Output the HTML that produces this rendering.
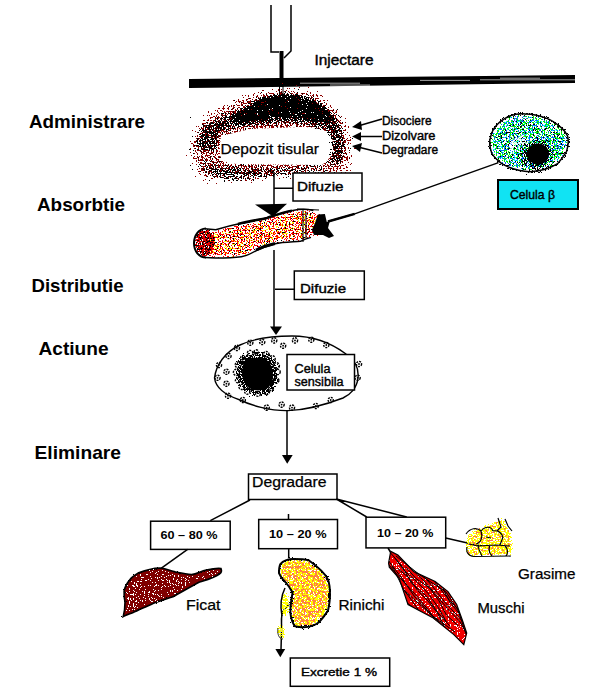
<!DOCTYPE html>
<html><head><meta charset="utf-8">
<style>
html,body{margin:0;padding:0;background:#fff;width:603px;height:698px;overflow:hidden}
svg{display:block}
text{font-family:"Liberation Sans",sans-serif;fill:#000}
.lab{font-size:18.5px;font-weight:bold}
.box{fill:#fff;stroke:#000;stroke-width:1.5}
.ln{stroke:#000;stroke-width:1.5;fill:none}
.sb{stroke:#000;stroke-width:0.4}
.sl{stroke:#000;stroke-width:0.25}
</style></head><body>
<svg width="603" height="698" viewBox="0 0 603 698">
<defs>
<filter id="dBlk" x="-30%" y="-30%" width="160%" height="160%" color-interpolation-filters="sRGB">
<feGaussianBlur in="SourceAlpha" stdDeviation="2" result="b"/>
<feTurbulence type="fractalNoise" baseFrequency="0.75" numOctaves="2" seed="3" result="n0"/>
<feColorMatrix in="n0" type="matrix" values="0 0 0 0 0  0 0 0 0 0  0 0 0 0 0  1 0 0 0 0" result="n"/>
<feComposite in="b" in2="n" operator="arithmetic" k2="2.255" k3="4" k4="-3.238" result="d"/>
<feComponentTransfer in="d" result="t"><feFuncA type="discrete" tableValues="0 1"/></feComponentTransfer>
<feFlood flood-color="#000"/>
<feComposite in2="t" operator="in"/>
</filter>
<filter id="dRed" x="-30%" y="-30%" width="160%" height="160%" color-interpolation-filters="sRGB">
<feGaussianBlur in="SourceAlpha" stdDeviation="6" result="b"/>
<feTurbulence type="fractalNoise" baseFrequency="0.6" numOctaves="2" seed="7" result="n0"/>
<feColorMatrix in="n0" type="matrix" values="0 0 0 0 0  0 0 0 0 0  0 0 0 0 0  1 0 0 0 0" result="n"/>
<feComposite in="b" in2="n" operator="arithmetic" k2="1.528" k3="4" k4="-3.083" result="d"/>
<feComponentTransfer in="d" result="t"><feFuncA type="discrete" tableValues="0 1"/></feComponentTransfer>
<feFlood flood-color="#8b0000"/>
<feComposite in2="t" operator="in"/>
</filter>
<filter id="dBlk2" x="-30%" y="-30%" width="160%" height="160%" color-interpolation-filters="sRGB">
<feGaussianBlur in="SourceAlpha" stdDeviation="3.5" result="b"/>
<feTurbulence type="fractalNoise" baseFrequency="0.75" numOctaves="2" seed="11" result="n0"/>
<feColorMatrix in="n0" type="matrix" values="0 0 0 0 0  0 0 0 0 0  0 0 0 0 0  1 0 0 0 0" result="n"/>
<feComposite in="b" in2="n" operator="arithmetic" k2="1.712" k3="4" k4="-3.157" result="d"/>
<feComponentTransfer in="d" result="t"><feFuncA type="discrete" tableValues="0 1"/></feComponentTransfer>
<feFlood flood-color="#000"/>
<feComposite in2="t" operator="in"/>
</filter>
<filter id="dGrn" x="-30%" y="-30%" width="160%" height="160%" color-interpolation-filters="sRGB">
<feGaussianBlur in="SourceAlpha" stdDeviation="2.5" result="b"/>
<feTurbulence type="fractalNoise" baseFrequency="0.75" numOctaves="2" seed="13" result="n0"/>
<feColorMatrix in="n0" type="matrix" values="0 0 0 0 0  0 0 0 0 0  0 0 0 0 0  1 0 0 0 0" result="n"/>
<feComposite in="b" in2="n" operator="arithmetic" k2="1.873" k3="4" k4="-3.462" result="d"/>
<feComponentTransfer in="d" result="t"><feFuncA type="discrete" tableValues="0 1"/></feComponentTransfer>
<feFlood flood-color="#00f000"/>
<feComposite in2="t" operator="in"/>
</filter>
<filter id="dBlu" x="-30%" y="-30%" width="160%" height="160%" color-interpolation-filters="sRGB">
<feGaussianBlur in="SourceAlpha" stdDeviation="2.5" result="b"/>
<feTurbulence type="fractalNoise" baseFrequency="0.75" numOctaves="2" seed="17" result="n0"/>
<feColorMatrix in="n0" type="matrix" values="0 0 0 0 0  0 0 0 0 0  0 0 0 0 0  1 0 0 0 0" result="n"/>
<feComposite in="b" in2="n" operator="arithmetic" k2="1.515" k3="4" k4="-3.354" result="d"/>
<feComponentTransfer in="d" result="t"><feFuncA type="discrete" tableValues="0 1"/></feComponentTransfer>
<feFlood flood-color="#0070ff"/>
<feComposite in2="t" operator="in"/>
</filter>
<filter id="dCyn" x="-30%" y="-30%" width="160%" height="160%" color-interpolation-filters="sRGB">
<feGaussianBlur in="SourceAlpha" stdDeviation="2.5" result="b"/>
<feTurbulence type="fractalNoise" baseFrequency="0.75" numOctaves="2" seed="83" result="n0"/>
<feColorMatrix in="n0" type="matrix" values="0 0 0 0 0  0 0 0 0 0  0 0 0 0 0  1 0 0 0 0" result="n"/>
<feComposite in="b" in2="n" operator="arithmetic" k2="1.023" k3="4" k4="-3.207" result="d"/>
<feComponentTransfer in="d" result="t"><feFuncA type="discrete" tableValues="0 1"/></feComponentTransfer>
<feFlood flood-color="#00ffff"/>
<feComposite in2="t" operator="in"/>
</filter>
<filter id="dNuc" x="-30%" y="-30%" width="160%" height="160%" color-interpolation-filters="sRGB">
<feGaussianBlur in="SourceAlpha" stdDeviation="4" result="b"/>
<feTurbulence type="fractalNoise" baseFrequency="0.75" numOctaves="2" seed="19" result="n0"/>
<feColorMatrix in="n0" type="matrix" values="0 0 0 0 0  0 0 0 0 0  0 0 0 0 0  1 0 0 0 0" result="n"/>
<feComposite in="b" in2="n" operator="arithmetic" k2="1.819" k3="4" k4="-3.264" result="d"/>
<feComponentTransfer in="d" result="t"><feFuncA type="discrete" tableValues="0 1"/></feComponentTransfer>
<feFlood flood-color="#000"/>
<feComposite in2="t" operator="in"/>
</filter>
<filter id="dRed2" x="-30%" y="-30%" width="160%" height="160%" color-interpolation-filters="sRGB">
<feGaussianBlur in="SourceAlpha" stdDeviation="2" result="b"/>
<feTurbulence type="fractalNoise" baseFrequency="0.75" numOctaves="2" seed="23" result="n0"/>
<feColorMatrix in="n0" type="matrix" values="0 0 0 0 0  0 0 0 0 0  0 0 0 0 0  1 0 0 0 0" result="n"/>
<feComposite in="b" in2="n" operator="arithmetic" k2="1.921" k3="4" k4="-3.476" result="d"/>
<feComponentTransfer in="d" result="t"><feFuncA type="discrete" tableValues="0 1"/></feComponentTransfer>
<feFlood flood-color="#ff0000"/>
<feComposite in2="t" operator="in"/>
</filter>
<filter id="dYel" x="-30%" y="-30%" width="160%" height="160%" color-interpolation-filters="sRGB">
<feGaussianBlur in="SourceAlpha" stdDeviation="3" result="b"/>
<feTurbulence type="fractalNoise" baseFrequency="0.75" numOctaves="2" seed="29" result="n0"/>
<feColorMatrix in="n0" type="matrix" values="0 0 0 0 0  0 0 0 0 0  0 0 0 0 0  1 0 0 0 0" result="n"/>
<feComposite in="b" in2="n" operator="arithmetic" k2="1.573" k3="4" k4="-3.529" result="d"/>
<feComponentTransfer in="d" result="t"><feFuncA type="discrete" tableValues="0 1"/></feComponentTransfer>
<feFlood flood-color="#ffff00"/>
<feComposite in2="t" operator="in"/>
</filter>
<filter id="dRed3" x="-30%" y="-30%" width="160%" height="160%" color-interpolation-filters="sRGB">
<feGaussianBlur in="SourceAlpha" stdDeviation="1.5" result="b"/>
<feTurbulence type="fractalNoise" baseFrequency="0.75" numOctaves="2" seed="31" result="n0"/>
<feColorMatrix in="n0" type="matrix" values="0 0 0 0 0  0 0 0 0 0  0 0 0 0 0  1 0 0 0 0" result="n"/>
<feComposite in="b" in2="n" operator="arithmetic" k2="2.529" k3="4" k4="-3.659" result="d"/>
<feComponentTransfer in="d" result="t"><feFuncA type="discrete" tableValues="0 1"/></feComponentTransfer>
<feFlood flood-color="#e00000"/>
<feComposite in2="t" operator="in"/>
</filter>
<filter id="dNuc2" x="-30%" y="-30%" width="160%" height="160%" color-interpolation-filters="sRGB">
<feGaussianBlur in="SourceAlpha" stdDeviation="2.5" result="b"/>
<feTurbulence type="fractalNoise" baseFrequency="0.75" numOctaves="2" seed="37" result="n0"/>
<feColorMatrix in="n0" type="matrix" values="0 0 0 0 0  0 0 0 0 0  0 0 0 0 0  1 0 0 0 0" result="n"/>
<feComposite in="b" in2="n" operator="arithmetic" k2="2.121" k3="4" k4="-3.324" result="d"/>
<feComponentTransfer in="d" result="t"><feFuncA type="discrete" tableValues="0 1"/></feComponentTransfer>
<feFlood flood-color="#000"/>
<feComposite in2="t" operator="in"/>
</filter>
<filter id="dWht" x="-30%" y="-30%" width="160%" height="160%" color-interpolation-filters="sRGB">
<feGaussianBlur in="SourceAlpha" stdDeviation="1.5" result="b"/>
<feTurbulence type="fractalNoise" baseFrequency="0.75" numOctaves="2" seed="41" result="n0"/>
<feColorMatrix in="n0" type="matrix" values="0 0 0 0 0  0 0 0 0 0  0 0 0 0 0  1 0 0 0 0" result="n"/>
<feComposite in="b" in2="n" operator="arithmetic" k2="1.394" k3="4" k4="-3.457" result="d"/>
<feComponentTransfer in="d" result="t"><feFuncA type="discrete" tableValues="0 1"/></feComponentTransfer>
<feFlood flood-color="#fff"/>
<feComposite in2="t" operator="in"/>
</filter>
<filter id="dYel2" x="-30%" y="-30%" width="160%" height="160%" color-interpolation-filters="sRGB">
<feGaussianBlur in="SourceAlpha" stdDeviation="1.5" result="b"/>
<feTurbulence type="fractalNoise" baseFrequency="0.75" numOctaves="2" seed="43" result="n0"/>
<feColorMatrix in="n0" type="matrix" values="0 0 0 0 0  0 0 0 0 0  0 0 0 0 0  1 0 0 0 0" result="n"/>
<feComposite in="b" in2="n" operator="arithmetic" k2="2.424" k3="4" k4="-3.627" result="d"/>
<feComponentTransfer in="d" result="t"><feFuncA type="discrete" tableValues="0 1"/></feComponentTransfer>
<feFlood flood-color="#ffff00"/>
<feComposite in2="t" operator="in"/>
</filter>
<filter id="dOrg" x="-30%" y="-30%" width="160%" height="160%" color-interpolation-filters="sRGB">
<feGaussianBlur in="SourceAlpha" stdDeviation="2" result="b"/>
<feTurbulence type="fractalNoise" baseFrequency="0.45" numOctaves="2" seed="47" result="n0"/>
<feColorMatrix in="n0" type="matrix" values="0 0 0 0 0  0 0 0 0 0  0 0 0 0 0  1 0 0 0 0" result="n"/>
<feComposite in="b" in2="n" operator="arithmetic" k2="1.921" k3="4" k4="-3.476" result="d"/>
<feComponentTransfer in="d" result="t"><feFuncA type="discrete" tableValues="0 1"/></feComponentTransfer>
<feFlood flood-color="#ff8040"/>
<feComposite in2="t" operator="in"/>
</filter>
<filter id="dWht2" x="-30%" y="-30%" width="160%" height="160%" color-interpolation-filters="sRGB">
<feGaussianBlur in="SourceAlpha" stdDeviation="1.5" result="b"/>
<feTurbulence type="fractalNoise" baseFrequency="0.75" numOctaves="2" seed="53" result="n0"/>
<feColorMatrix in="n0" type="matrix" values="0 0 0 0 0  0 0 0 0 0  0 0 0 0 0  1 0 0 0 0" result="n"/>
<feComposite in="b" in2="n" operator="arithmetic" k2="1.472" k3="4" k4="-3.489" result="d"/>
<feComponentTransfer in="d" result="t"><feFuncA type="discrete" tableValues="0 1"/></feComponentTransfer>
<feFlood flood-color="#fff"/>
<feComposite in2="t" operator="in"/>
</filter>
<filter id="dOrg2" x="-30%" y="-30%" width="160%" height="160%" color-interpolation-filters="sRGB">
<feGaussianBlur in="SourceAlpha" stdDeviation="2" result="b"/>
<feTurbulence type="fractalNoise" baseFrequency="0.5" numOctaves="2" seed="59" result="n0"/>
<feColorMatrix in="n0" type="matrix" values="0 0 0 0 0  0 0 0 0 0  0 0 0 0 0  1 0 0 0 0" result="n"/>
<feComposite in="b" in2="n" operator="arithmetic" k2="1.662" k3="4" k4="-3.565" result="d"/>
<feComponentTransfer in="d" result="t"><feFuncA type="discrete" tableValues="0 1"/></feComponentTransfer>
<feFlood flood-color="#ff8040"/>
<feComposite in2="t" operator="in"/>
</filter>
<filter id="dBlkE" x="-30%" y="-30%" width="160%" height="160%" color-interpolation-filters="sRGB">
<feGaussianBlur in="SourceAlpha" stdDeviation="1.2" result="b"/>
<feTurbulence type="fractalNoise" baseFrequency="0.75" numOctaves="2" seed="61" result="n0"/>
<feColorMatrix in="n0" type="matrix" values="0 0 0 0 0  0 0 0 0 0  0 0 0 0 0  1 0 0 0 0" result="n"/>
<feComposite in="b" in2="n" operator="arithmetic" k2="1.841" k3="4" k4="-3.452" result="d"/>
<feComponentTransfer in="d" result="t"><feFuncA type="discrete" tableValues="0 1"/></feComponentTransfer>
<feFlood flood-color="#000"/>
<feComposite in2="t" operator="in"/>
</filter>
<filter id="dYelF" x="-30%" y="-30%" width="160%" height="160%" color-interpolation-filters="sRGB">
<feGaussianBlur in="SourceAlpha" stdDeviation="1.5" result="b"/>
<feTurbulence type="fractalNoise" baseFrequency="0.75" numOctaves="2" seed="67" result="n0"/>
<feColorMatrix in="n0" type="matrix" values="0 0 0 0 0  0 0 0 0 0  0 0 0 0 0  1 0 0 0 0" result="n"/>
<feComposite in="b" in2="n" operator="arithmetic" k2="2.093" k3="4" k4="-3.423" result="d"/>
<feComponentTransfer in="d" result="t"><feFuncA type="discrete" tableValues="0 1"/></feComponentTransfer>
<feFlood flood-color="#ffff00"/>
<feComposite in2="t" operator="in"/>
</filter>
<filter id="dBlkM" x="-30%" y="-30%" width="160%" height="160%" color-interpolation-filters="sRGB">
<feGaussianBlur in="SourceAlpha" stdDeviation="1.5" result="b"/>
<feTurbulence type="fractalNoise" baseFrequency="0.75" numOctaves="2" seed="71" result="n0"/>
<feColorMatrix in="n0" type="matrix" values="0 0 0 0 0  0 0 0 0 0  0 0 0 0 0  1 0 0 0 0" result="n"/>
<feComposite in="b" in2="n" operator="arithmetic" k2="0.9" k3="4" k4="-3.17" result="d"/>
<feComponentTransfer in="d" result="t"><feFuncA type="discrete" tableValues="0 1"/></feComponentTransfer>
<feFlood flood-color="#000"/>
<feComposite in2="t" operator="in"/>
</filter>
<filter id="dBlkT" x="-30%" y="-30%" width="160%" height="160%" color-interpolation-filters="sRGB">
<feGaussianBlur in="SourceAlpha" stdDeviation="2" result="b"/>
<feTurbulence type="fractalNoise" baseFrequency="0.75" numOctaves="2" seed="73" result="n0"/>
<feColorMatrix in="n0" type="matrix" values="0 0 0 0 0  0 0 0 0 0  0 0 0 0 0  1 0 0 0 0" result="n"/>
<feComposite in="b" in2="n" operator="arithmetic" k2="0.966" k3="4" k4="-3.19" result="d"/>
<feComponentTransfer in="d" result="t"><feFuncA type="discrete" tableValues="0 1"/></feComponentTransfer>
<feFlood flood-color="#000"/>
<feComposite in2="t" operator="in"/>
</filter>
<filter id="dBlkC" x="-30%" y="-30%" width="160%" height="160%" color-interpolation-filters="sRGB">
<feGaussianBlur in="SourceAlpha" stdDeviation="1.5" result="b"/>
<feTurbulence type="fractalNoise" baseFrequency="0.75" numOctaves="2" seed="79" result="n0"/>
<feColorMatrix in="n0" type="matrix" values="0 0 0 0 0  0 0 0 0 0  0 0 0 0 0  1 0 0 0 0" result="n"/>
<feComposite in="b" in2="n" operator="arithmetic" k2="1.758" k3="4" k4="-3.427" result="d"/>
<feComponentTransfer in="d" result="t"><feFuncA type="discrete" tableValues="0 1"/></feComponentTransfer>
<feFlood flood-color="#000"/>
<feComposite in2="t" operator="in"/>
</filter>
<filter id="dBlkA" x="-30%" y="-30%" width="160%" height="160%" color-interpolation-filters="sRGB">
<feGaussianBlur in="SourceAlpha" stdDeviation="2" result="b"/>
<feTurbulence type="fractalNoise" baseFrequency="0.75" numOctaves="2" seed="97" result="n0"/>
<feColorMatrix in="n0" type="matrix" values="0 0 0 0 0  0 0 0 0 0  0 0 0 0 0  1 0 0 0 0" result="n"/>
<feComposite in="b" in2="n" operator="arithmetic" k2="1.889" k3="4" k4="-3.278" result="d"/>
<feComponentTransfer in="d" result="t"><feFuncA type="discrete" tableValues="0 1"/></feComponentTransfer>
<feFlood flood-color="#000"/>
<feComposite in2="t" operator="in"/>
</filter>
<filter id="dBlkH" x="-30%" y="-30%" width="160%" height="160%" color-interpolation-filters="sRGB">
<feGaussianBlur in="SourceAlpha" stdDeviation="5" result="b"/>
<feTurbulence type="fractalNoise" baseFrequency="0.75" numOctaves="2" seed="101" result="n0"/>
<feColorMatrix in="n0" type="matrix" values="0 0 0 0 0  0 0 0 0 0  0 0 0 0 0  1 0 0 0 0" result="n"/>
<feComposite in="b" in2="n" operator="arithmetic" k2="0.845" k3="4" k4="-3.069" result="d"/>
<feComponentTransfer in="d" result="t"><feFuncA type="discrete" tableValues="0 1"/></feComponentTransfer>
<feFlood flood-color="#000"/>
<feComposite in2="t" operator="in"/>
</filter>
<filter id="dWhtC" x="-30%" y="-30%" width="160%" height="160%" color-interpolation-filters="sRGB">
<feGaussianBlur in="SourceAlpha" stdDeviation="4" result="b"/>
<feTurbulence type="fractalNoise" baseFrequency="0.75" numOctaves="2" seed="103" result="n0"/>
<feColorMatrix in="n0" type="matrix" values="0 0 0 0 0  0 0 0 0 0  0 0 0 0 0  1 0 0 0 0" result="n"/>
<feComposite in="b" in2="n" operator="arithmetic" k2="1.919" k3="4" k4="-3.188" result="d"/>
<feComponentTransfer in="d" result="t"><feFuncA type="discrete" tableValues="0 1"/></feComponentTransfer>
<feFlood flood-color="#fff"/>
<feComposite in2="t" operator="in"/>
</filter>
<filter id="dBlkS" x="-30%" y="-30%" width="160%" height="160%" color-interpolation-filters="sRGB">
<feGaussianBlur in="SourceAlpha" stdDeviation="3" result="b"/>
<feTurbulence type="fractalNoise" baseFrequency="0.75" numOctaves="2" seed="107" result="n0"/>
<feColorMatrix in="n0" type="matrix" values="0 0 0 0 0  0 0 0 0 0  0 0 0 0 0  1 0 0 0 0" result="n"/>
<feComposite in="b" in2="n" operator="arithmetic" k2="1.194" k3="4" k4="-3.258" result="d"/>
<feComponentTransfer in="d" result="t"><feFuncA type="discrete" tableValues="0 1"/></feComponentTransfer>
<feFlood flood-color="#000"/>
<feComposite in2="t" operator="in"/>
</filter>
<filter id="dBlkK" x="-30%" y="-30%" width="160%" height="160%" color-interpolation-filters="sRGB">
<feGaussianBlur in="SourceAlpha" stdDeviation="1" result="b"/>
<feTurbulence type="fractalNoise" baseFrequency="0.75" numOctaves="2" seed="89" result="n0"/>
<feColorMatrix in="n0" type="matrix" values="0 0 0 0 0  0 0 0 0 0  0 0 0 0 0  1 0 0 0 0" result="n"/>
<feComposite in="b" in2="n" operator="arithmetic" k2="1.758" k3="4" k4="-3.427" result="d"/>
<feComponentTransfer in="d" result="t"><feFuncA type="discrete" tableValues="0 1"/></feComponentTransfer>
<feFlood flood-color="#000"/>
<feComposite in2="t" operator="in"/>
</filter>
</defs>
<!-- left labels -->
<text class="lab" x="29" y="128" textLength="116" lengthAdjust="spacingAndGlyphs">Administrare</text>
<text class="lab" x="37" y="211" textLength="88" lengthAdjust="spacingAndGlyphs">Absorbtie</text>
<text class="lab" x="31.5" y="291.6" textLength="92" lengthAdjust="spacingAndGlyphs">Distributie</text>
<text class="lab" x="38.5" y="354.7" textLength="70" lengthAdjust="spacingAndGlyphs">Actiune</text>
<text class="lab" x="34.5" y="458.5" textLength="86.5" lengthAdjust="spacingAndGlyphs">Eliminare</text>

<!-- syringe -->
<path class="ln" d="M271,5 V52 H279 M291,5 V51 L284,58" stroke-width="2"/>
<rect x="279.5" y="51" width="4" height="36" fill="#000"/>
<!-- bar -->
<path d="M189,79 L575,75 L575,83 L189,88 Z" fill="#000"/>
<path d="M300,83.2 H360 M420,80.4 H470 M480,79.8 H575 M330,85 H370 M500,78.2 H540" stroke="#fff" stroke-width="0.8" opacity="0.8"/>
<text class="sb" x="314.5" y="64.7" font-size="14" textLength="59" lengthAdjust="spacingAndGlyphs">Injectare</text>

<!-- deposit -->
<path filter="url(#dRed)" d="M188,142 L198,120 L222,104 L258,90 L285,86 L312,89 L342,110 L355,148 L350,175 L320,176 L284,178 L245,183 L200,180 L190,160 Z" fill="#000"/>
<path filter="url(#dBlkH)" d="M188,142 L198,120 L222,104 L258,90 L285,86 L312,89 L342,110 L355,148 L350,175 L320,176 L284,178 L245,183 L200,180 L190,160 Z" fill="#000"/>
<path d="M221,136 C220,145 219,152 221,158 C225,163 232,164 240,164 L322,165 C328,160 333,155 333,150 C333,142 332,137 330,133 C320,128 310,127 300,127 L250,129 Z" fill="#fff"/>
<path filter="url(#dBlkA)" d="M194,144 L203,122 L224,116 L245,107 L256.6,98 L274.5,93.4 L298.4,93.4 L319,101 L334,113 L343,128 L346,146 L343,163.6 L325,166.6 L331,151.6 L328,133.7 L304,124.8 L274.5,124.8 L244.7,127.8 L220.8,132 L218,151.6 L203,154.6 Z" fill="#000"/>
<path filter="url(#dBlk)" d="M232,112 L245,106 L256.6,98 L274.5,93.4 L298.4,93.4 L319,101 L332,112 L336,122 L318,122 L300,119 L275,120 L250,123 L232,125 Z" fill="#000"/>
<path filter="url(#dBlk2)" d="M197,161 L225,165 L280,167 L330,165 L345,163 L338,171 L320,173 L284,176 L245,182 L210,179 Z" fill="#000"/>
<path d="M279.5,86 V98 M283,86 V97" stroke="#000" stroke-width="1"/>
<text class="sl" x="220.5" y="154" font-size="15" textLength="98.5" lengthAdjust="spacingAndGlyphs">Depozit tisular</text>

<!-- arrows -->
<path class="ln" d="M382,119 L358,126 M382,136.5 L358,136.5 M382,153 L358,147" stroke-width="2"/>
<path d="M352,127 L361,121 L362,130 Z M352,136.5 L361,132 L361,141 Z M352,146 L362,143 L360,152 Z" fill="#000"/>
<text class="sb" x="382" y="125" font-size="12" textLength="49.5" lengthAdjust="spacingAndGlyphs">Disociere</text>
<text class="sb" x="382" y="139.7" font-size="12" textLength="53.5" lengthAdjust="spacingAndGlyphs">Dizolvare</text>
<text class="sb" x="382" y="153.9" font-size="12" textLength="56" lengthAdjust="spacingAndGlyphs">Degradare</text>

<!-- cell beta -->
<path d="M489.9,139.8 C491,134 493,129 495.9,125.9 C500,121 505,118 509.8,115.9 C515,114 520,113.5 525.7,113.9 C533,114 539,115.5 545.6,117.9 C552,120 557,124 561.5,127.9 C564,130 566,133 567.5,135.8 C569,141 568,147 566.5,151.7 C564,156 561,160 557.6,163.7 C552,167 546,169.5 539.7,170.6 C533,172 526,172 519.8,170.6 C513,169 507,167 501.8,163.7 C497,160 494,157 491.9,153.7 C490,149 489.5,144 489.9,139.8 Z" fill="#000" filter="url(#dGrn)"/>
<path d="M489.9,139.8 C491,134 493,129 495.9,125.9 C500,121 505,118 509.8,115.9 C515,114 520,113.5 525.7,113.9 C533,114 539,115.5 545.6,117.9 C552,120 557,124 561.5,127.9 C564,130 566,133 567.5,135.8 C569,141 568,147 566.5,151.7 C564,156 561,160 557.6,163.7 C552,167 546,169.5 539.7,170.6 C533,172 526,172 519.8,170.6 C513,169 507,167 501.8,163.7 C497,160 494,157 491.9,153.7 C490,149 489.5,144 489.9,139.8 Z" fill="#000" filter="url(#dBlu)"/>
<path d="M489.9,139.8 C491,134 493,129 495.9,125.9 C500,121 505,118 509.8,115.9 C515,114 520,113.5 525.7,113.9 C533,114 539,115.5 545.6,117.9 C552,120 557,124 561.5,127.9 C564,130 566,133 567.5,135.8 C569,141 568,147 566.5,151.7 C564,156 561,160 557.6,163.7 C552,167 546,169.5 539.7,170.6 C533,172 526,172 519.8,170.6 C513,169 507,167 501.8,163.7 C497,160 494,157 491.9,153.7 C490,149 489.5,144 489.9,139.8 Z" fill="#000" filter="url(#dCyn)"/>
<path d="M489.9,139.8 C491,134 493,129 495.9,125.9 C500,121 505,118 509.8,115.9 C515,114 520,113.5 525.7,113.9 C533,114 539,115.5 545.6,117.9 C552,120 557,124 561.5,127.9 C564,130 566,133 567.5,135.8 C569,141 568,147 566.5,151.7 C564,156 561,160 557.6,163.7 C552,167 546,169.5 539.7,170.6 C533,172 526,172 519.8,170.6 C513,169 507,167 501.8,163.7 C497,160 494,157 491.9,153.7 C490,149 489.5,144 489.9,139.8 Z" fill="none" stroke="#000" stroke-width="5" filter="url(#dBlkE)"/>
<ellipse cx="518" cy="143" rx="14" ry="8" transform="rotate(-20 518 143)" fill="#000" filter="url(#dWhtC)"/>
<path d="M492,140 C495,126 510,116 526,115 C545,115 560,124 566,140 L566,152 C560,164 548,170 536,171 C520,172 505,166 494,154 Z" fill="#000" filter="url(#dBlkS)"/>
<path d="M489.9,139.8 C491,134 493,129 495.9,125.9 C500,121 505,118 509.8,115.9 C515,114 520,113.5 525.7,113.9 C533,114 539,115.5 545.6,117.9 C552,120 557,124 561.5,127.9 C564,130 566,133 567.5,135.8 C569,141 568,147 566.5,151.7 C564,156 561,160 557.6,163.7 C552,167 546,169.5 539.7,170.6 C533,172 526,172 519.8,170.6 C513,169 507,167 501.8,163.7 C497,160 494,157 491.9,153.7 C490,149 489.5,144 489.9,139.8 Z" fill="none" stroke="#000" stroke-width="1.5"/>
<circle cx="536" cy="155" r="19" fill="#000" filter="url(#dNuc)"/>
<ellipse cx="538" cy="154" rx="11" ry="10.5" fill="#000"/>
<rect x="498" y="180" width="80" height="29" fill="#11e3f3" stroke="#000" stroke-width="2"/>
<text class="sb" x="510" y="199" font-size="13" textLength="45" lengthAdjust="spacingAndGlyphs">Celula β</text>
<path class="ln" d="M498.5,162.6 L354.7,213.9 L328,221.5"/>
<path d="M354.7,213.9 L328,221.5" stroke="#000" stroke-width="2.5"/>

<!-- difuzie 1 -->
<path class="ln" d="M274,172 V205 M274,188.3 H293 M274,250 V327 M275,289.2 H294"/>
<rect class="box" x="293" y="173" width="69" height="28"/>
<text class="sb" x="297" y="190.5" font-size="13.5" textLength="46.5" lengthAdjust="spacingAndGlyphs">Difuzie</text>
<path d="M255,204.5 L287,203.7 L273,216.5 Z" fill="#000"/>

<!-- intestine -->
<path d="M204,229 L215.7,229.7 C225,227 233,225 241.4,223.3 C250,221 258,220 267,218 C276,215 284,212 292.8,210.4 C300,209 307,209 313.4,210.4 L321,213 L323,236 L311,237.4 C305,239 303,240 300.5,241.3 C292,242 283,242 274.8,243.8 C268,246 262,248 256.8,250.3 C252,253 247,256 241.4,256.7 C232,258 224,258 215.7,258 L204,258 Z" fill="#000" filter="url(#dRed2)"/>
<path d="M204,229 L215.7,229.7 C225,227 233,225 241.4,223.3 C250,221 258,220 267,218 C276,215 284,212 292.8,210.4 C300,209 307,209 313.4,210.4 L321,213 L323,236 L311,237.4 C305,239 303,240 300.5,241.3 C292,242 283,242 274.8,243.8 C268,246 262,248 256.8,250.3 C252,253 247,256 241.4,256.7 C232,258 224,258 215.7,258 L204,258 Z" fill="#000" filter="url(#dYel)"/>
<path d="M204,229 L215.7,229.7 C225,227 233,225 241.4,223.3 C250,221 258,220 267,218 C276,215 284,212 292.8,210.4 C300,209 307,209 313.4,210.4 L321,213 L323,236 L311,237.4 C305,239 303,240 300.5,241.3 C292,242 283,242 274.8,243.8 C268,246 262,248 256.8,250.3 C252,253 247,256 241.4,256.7 C232,258 224,258 215.7,258 L204,258 Z" fill="#000" filter="url(#dBlkT)"/>
<path d="M205,228.8 L215.7,229.7 C225,227 233,225 241.4,223.3 C250,221 258,220 267,218 C276,215 284,212 292.8,210.4 C300,209 307,209 313.4,210.4" fill="none" stroke="#000" stroke-width="1.5"/>
<path d="M238,224 C250,221 258,220 267,218 C276,215 284,212 292,210.8" fill="none" stroke="#000" stroke-width="2.6"/>
<path d="M311,237.4 C305,239 303,240 300.5,241.3 C292,242 283,242 274.8,243.8 C268,246 262,248 256.8,250.3 C252,253 247,256 241.4,256.7 C232,258 224,258 215.7,258 L205,257.6" fill="none" stroke="#000" stroke-width="1.5"/>
<path d="M256,250 C262,247 268,245 275,243.5" fill="none" stroke="#000" stroke-width="3"/>
<ellipse cx="205" cy="243" rx="11" ry="14.6" fill="#000" filter="url(#dRed3)"/>
<ellipse cx="205" cy="243" rx="11" ry="14.6" fill="#000" filter="url(#dBlkC)"/>
<path d="M206,228.6 C198,229 194,236 194,243 C194,251 199,257.6 206,257.6" fill="none" stroke="#000" stroke-width="2"/>
<path d="M303,210 V242 M306,212 V238 M297,209 L319,210" stroke="#000" stroke-width="1.1"/>
<path d="M317.9,214.4 L324.9,213.9 L326.8,221.9 L330,220.5 L328,228 L334,236 L329,238 L323,235 L314,235 L311.9,230 L315,223 Z" fill="#000"/>
<!-- difuzie 2 -->
<rect class="box" x="294.3" y="271" width="70" height="28.5"/>
<text class="sb" x="300" y="292.8" font-size="13.5" textLength="46" lengthAdjust="spacingAndGlyphs">Difuzie</text>
<path d="M270,326.6 L282,326.6 L276,335 Z" fill="#000"/>

<!-- sensibila cell -->
<path d="M214.5,378 C216,365 225,352 240,345 C255,338 275,336 292,336 C310,336 330,342 346,354 C355,360 359,368 358,378 C357,388 350,395 343,398 C330,403 310,410 288,410.6 C270,411 250,405 240,400 C228,396 216,390 214.5,378 Z" fill="none" stroke="#000" stroke-width="1.4"/>
<g fill="none" stroke="#000" stroke-width="1.4" stroke-dasharray="2 1">
<circle cx="228.5" cy="356" r="2.6"/><circle cx="228.5" cy="356" r="0.9" fill="#000" stroke="none"/>
<circle cx="236.9" cy="347.9" r="2.6"/><circle cx="236.9" cy="347.9" r="0.9" fill="#000" stroke="none"/>
<circle cx="250.3" cy="342.7" r="2.6"/><circle cx="250.3" cy="342.7" r="0.9" fill="#000" stroke="none"/>
<circle cx="262.2" cy="342" r="2.6"/><circle cx="262.2" cy="342" r="0.9" fill="#000" stroke="none"/>
<circle cx="274.2" cy="340.4" r="2.6"/><circle cx="274.2" cy="340.4" r="0.9" fill="#000" stroke="none"/>
<circle cx="283.1" cy="345.7" r="2.6"/><circle cx="283.1" cy="345.7" r="0.9" fill="#000" stroke="none"/>
<circle cx="219" cy="365" r="2.6"/><circle cx="219" cy="365" r="0.9" fill="#000" stroke="none"/>
<circle cx="217.5" cy="377.8" r="2.6"/><circle cx="217.5" cy="377.8" r="0.9" fill="#000" stroke="none"/>
<circle cx="226.4" cy="371.8" r="2.6"/><circle cx="226.4" cy="371.8" r="0.9" fill="#000" stroke="none"/>
<circle cx="226.4" cy="383.7" r="2.6"/><circle cx="226.4" cy="383.7" r="0.9" fill="#000" stroke="none"/>
<circle cx="228" cy="395.7" r="2.6"/><circle cx="228" cy="395.7" r="0.9" fill="#000" stroke="none"/>
<circle cx="242.8" cy="400" r="2.6"/><circle cx="242.8" cy="400" r="0.9" fill="#000" stroke="none"/>
<circle cx="266.7" cy="407.6" r="2.6"/><circle cx="266.7" cy="407.6" r="0.9" fill="#000" stroke="none"/>
<circle cx="281.6" cy="404.6" r="2.6"/><circle cx="281.6" cy="404.6" r="0.9" fill="#000" stroke="none"/>
<circle cx="292" cy="407.6" r="2.6"/><circle cx="292" cy="407.6" r="0.9" fill="#000" stroke="none"/>
<circle cx="295" cy="340.4" r="2.6"/><circle cx="295" cy="340.4" r="0.9" fill="#000" stroke="none"/>
<circle cx="311.3" cy="339.7" r="2.6"/><circle cx="311.3" cy="339.7" r="0.9" fill="#000" stroke="none"/>
<circle cx="326.3" cy="345" r="2.6"/><circle cx="326.3" cy="345" r="0.9" fill="#000" stroke="none"/>
<circle cx="359" cy="364" r="2.6"/><circle cx="359" cy="364" r="0.9" fill="#000" stroke="none"/>
<circle cx="357.6" cy="377.8" r="2.6"/><circle cx="357.6" cy="377.8" r="0.9" fill="#000" stroke="none"/>
<circle cx="315.8" cy="406" r="2.6"/><circle cx="315.8" cy="406" r="0.9" fill="#000" stroke="none"/>
<circle cx="330.7" cy="400" r="2.6"/><circle cx="330.7" cy="400" r="0.9" fill="#000" stroke="none"/>
<circle cx="277.5" cy="371.9" r="2.7"/>
<circle cx="276.1" cy="380.5" r="2.8"/>
<circle cx="271.1" cy="388.2" r="2.3"/>
<circle cx="266.6" cy="391.5" r="3.0"/>
<circle cx="258.0" cy="394.0" r="2.4"/>
<circle cx="247.3" cy="391.5" r="2.7"/>
<circle cx="241.6" cy="386.8" r="2.7"/>
<circle cx="237.8" cy="380.5" r="2.4"/>
<circle cx="236.5" cy="372.4" r="3.1"/>
<circle cx="238.1" cy="364.9" r="2.9"/>
<circle cx="243.0" cy="357.7" r="2.3"/>
<circle cx="250.1" cy="353.2" r="2.8"/>
<circle cx="256.2" cy="352.0" r="2.2"/>
<circle cx="266.2" cy="354.2" r="2.7"/>
<circle cx="272.1" cy="358.8" r="3.1"/>
<circle cx="276.3" cy="365.8" r="3.1"/>
</g>
<path d="M236,362 C238,354 246,351 252,352 C258,350 266,350 272,355 C278,360 280,368 279,376 C280,384 276,392 270,395 C262,398 252,397 245,393 C238,388 234,380 235,372 Z" fill="#000" filter="url(#dNuc2)"/>
<path d="M243,365 C245,359 250,357 255,358 C260,357 265,358 268,361 C272,365 273,370 273,376 C273,382 270,387 266,389 C260,391 254,391 249,388 C244,384 242,378 242,372 Z" fill="#000"/>
<rect class="box" x="287" y="354.5" width="67.5" height="35.5"/>
<text class="sb" x="294.5" y="373" font-size="12.5" textLength="36" lengthAdjust="spacingAndGlyphs">Celula</text>
<text class="sb" x="294.5" y="385.6" font-size="12.5" textLength="49" lengthAdjust="spacingAndGlyphs">sensibila</text>
<path class="ln" d="M287,410 V456"/>
<path d="M282,455 L292.7,455 L287.2,463.7 Z" fill="#000"/>

<!-- degradare -->
<rect class="box" x="248.5" y="474" width="88.5" height="25.5"/>
<text class="sl" x="252" y="487" font-size="14" textLength="74.5" lengthAdjust="spacingAndGlyphs">Degradare</text>
<path class="ln" d="M250,500 L210.3,520.7 M288.5,514 V520 M336.4,499 L366.7,517 M336.4,499 L406.7,517 M445.7,538 L474,544.5 L487,547"/>
<rect class="box" x="150.6" y="521.2" width="79.6" height="28.2"/>
<text x="160.5" y="538.7" font-size="11" font-weight="bold" textLength="57" lengthAdjust="spacingAndGlyphs">60 – 80 %</text>
<rect class="box" x="258.7" y="519.5" width="78.8" height="29.2"/>
<text x="269" y="538" font-size="11" font-weight="bold" textLength="57.5" lengthAdjust="spacingAndGlyphs">10 – 20 %</text>
<rect class="box" x="366" y="517.2" width="79.7" height="30.7"/>
<text x="377" y="537" font-size="11" font-weight="bold" textLength="56.5" lengthAdjust="spacingAndGlyphs">10 – 20 %</text>

<!-- liver -->
<path class="ln" d="M187.6,549.3 L160.7,568.7"/>
<path d="M123.2,616.6 C125,610 125,605 125,602 C124,598 124,594 124.1,591 C125,586 127,583 129.6,580 C132,577 135,575 138.7,572.8 C143,571 147,570 151.5,569.1 C155,568 159,568 162.4,568.2 C167,569 171,571 175.2,571.9 C181,573 186,574 191.6,574.6 C197,574 201,571 206.2,570 C211,569 216,568 221,568.5 C222,571 221,573 219.4,574 C214,578 206,580 199.5,582 C190,587 180,593 173,596.7 C166,599 159,601 153,603.4 C145,607 137,611 133.2,612.5 C129,614 126,615 123.2,616.6 Z" fill="#800000" stroke="#000" stroke-width="1.6"/>
<path d="M123.2,616.6 C125,610 125,605 125,602 C124,598 124,594 124.1,591 C125,586 127,583 129.6,580 C132,577 135,575 138.7,572.8 C143,571 147,570 151.5,569.1 C155,568 159,568 162.4,568.2 C167,569 171,571 175.2,571.9 C181,573 186,574 191.6,574.6 C197,574 201,571 206.2,570 C211,569 216,568 221,568.5 C222,571 221,573 219.4,574 C214,578 206,580 199.5,582 C190,587 180,593 173,596.7 C166,599 159,601 153,603.4 C145,607 137,611 133.2,612.5 C129,614 126,615 123.2,616.6 Z" fill="#000" filter="url(#dWht)"/>
<path d="M123.2,616.6 C125,610 125,605 125,602 C124,598 124,594 124.1,591 C125,586 127,583 129.6,580 C132,577 135,575 138.7,572.8 C143,571 147,570 151.5,569.1 C155,568 159,568 162.4,568.2 C167,569 171,571 175.2,571.9 C181,573 186,574 191.6,574.6 C197,574 201,571 206.2,570 C211,569 216,568 221,568.5 C222,571 221,573 219.4,574 C214,578 206,580 199.5,582 C190,587 180,593 173,596.7 C166,599 159,601 153,603.4 C145,607 137,611 133.2,612.5 C129,614 126,615 123.2,616.6 Z" fill="none" stroke="#000" stroke-width="3" filter="url(#dBlkE)"/>
<text class="sl" x="186" y="609.7" font-size="14" textLength="34.5" lengthAdjust="spacingAndGlyphs">Ficat</text>

<!-- kidney -->
<path class="ln" d="M288.7,548.8 V558"/>
<path id="kid" d="M280.3,564.2 C284,560 288,559 293.2,559 C298,559 304,559 308.7,560.3 C318,567 325,573 328,579.6 C330,585 330,590 330,595.1 C330,600 329,606 328,610.6 C325,615 322,619 319,622.2 C314,626 309,627 303.5,627.3 C300,627 297,627 294.5,626 C291,620 290,612 290.6,606.7 C291,601 292,596 292.6,592.5 C290,588 288,585 285.5,582.2 C282,579 280,576 279,573.2 C279,570 279,567 280.3,564.2 Z" fill="#000" filter="url(#dYel2)"/>
<path d="M280.3,564.2 C284,560 288,559 293.2,559 C298,559 304,559 308.7,560.3 C318,567 325,573 328,579.6 C330,585 330,590 330,595.1 C330,600 329,606 328,610.6 C325,615 322,619 319,622.2 C314,626 309,627 303.5,627.3 C300,627 297,627 294.5,626 C291,620 290,612 290.6,606.7 C291,601 292,596 292.6,592.5 C290,588 288,585 285.5,582.2 C282,579 280,576 279,573.2 C279,570 279,567 280.3,564.2 Z" fill="#000" filter="url(#dOrg)"/>
<path d="M280.3,564.2 C284,560 288,559 293.2,559 C298,559 304,559 308.7,560.3 C318,567 325,573 328,579.6 C330,585 330,590 330,595.1 C330,600 329,606 328,610.6 C325,615 322,619 319,622.2 C314,626 309,627 303.5,627.3 C300,627 297,627 294.5,626 C291,620 290,612 290.6,606.7 C291,601 292,596 292.6,592.5 C290,588 288,585 285.5,582.2 C282,579 280,576 279,573.2 C279,570 279,567 280.3,564.2 Z" fill="none" stroke="#000" stroke-width="5" filter="url(#dBlkK)"/>
<path d="M280.3,564.2 C284,560 288,559 293.2,559 C298,559 304,559 308.7,560.3 C318,567 325,573 328,579.6 C330,585 330,590 330,595.1 C330,600 329,606 328,610.6 C325,615 322,619 319,622.2 C314,626 309,627 303.5,627.3 C300,627 297,627 294.5,626 C291,620 290,612 290.6,606.7 C291,601 292,596 292.6,592.5 C290,588 288,585 285.5,582.2 C282,579 280,576 279,573.2 C279,570 279,567 280.3,564.2 Z" fill="none" stroke="#000" stroke-width="2"/>
<path class="ln" d="M289.3,604 C286,607 283,610 282,614 C281,620 281.6,622 281.6,628 L281,650"/>
<path d="M283,590 C288,592 291,600 290,610 C289,616 286,620 283,618 C280,612 280,600 283,590 Z" fill="#000" filter="url(#dYel2)"/>
<path d="M285,588 C281,596 280,606 282,616" fill="none" stroke="#000" stroke-width="1.5"/>
<path d="M277,626 C276,632 278,640 283,640 C287,637 286,628 282,624 Z" fill="#000" filter="url(#dYel2)"/>
<path d="M278,628 C277,634 279,639 283,639" fill="none" stroke="#000" stroke-width="0.8"/>
<path d="M275.4,649 L285.2,649 L280.3,657.3 Z" fill="#000"/>
<text class="sl" x="338.5" y="609.7" font-size="14" textLength="46" lengthAdjust="spacingAndGlyphs">Rinichi</text>
<rect class="box" x="290.3" y="658" width="99.4" height="28.3"/>
<text class="sb" x="301" y="675.8" font-size="11.5" textLength="76" lengthAdjust="spacingAndGlyphs">Excretie 1 %</text>

<!-- muscle -->
<path class="ln" d="M388,548 L391,553"/>
<path d="M390.7,551.4 L397.9,555 L413.7,571.5 L435.2,581.5 L448,591.6 L456.7,604.5 L462.4,620.2 L466.7,633.1 L463.8,644.6 L453.8,634.6 L432.3,617.4 L408,604.5 L403.6,591.6 L399.3,578.7 L389.3,567.2 L388.6,562.9 Z" fill="#f00000"/>
<path d="M390.7,551.4 L397.9,555 L413.7,571.5 L435.2,581.5 L448,591.6 L456.7,604.5 L462.4,620.2 L466.7,633.1 L463.8,644.6 L453.8,634.6 L432.3,617.4 L408,604.5 L403.6,591.6 L399.3,578.7 L389.3,567.2 L388.6,562.9 Z" fill="#000" filter="url(#dWht2)"/>
<path d="M390.7,551.4 L397.9,555 L413.7,571.5 L435.2,581.5 L448,591.6 L456.7,604.5 L462.4,620.2 L466.7,633.1 L463.8,644.6 L453.8,634.6 L432.3,617.4 L408,604.5 L403.6,591.6 L399.3,578.7 L389.3,567.2 L388.6,562.9 Z" fill="none" stroke="#000" stroke-width="1.2"/>
<clipPath id="musclip"><path d="M390.7,551.4 L397.9,555 L413.7,571.5 L435.2,581.5 L448,591.6 L456.7,604.5 L462.4,620.2 L466.7,633.1 L463.8,644.6 L453.8,634.6 L432.3,617.4 L408,604.5 L403.6,591.6 L399.3,578.7 L389.3,567.2 L388.6,562.9 Z"/></clipPath>
<path clip-path="url(#musclip)" d="M413.1,549.0 L426.7,565.4 L440.2,582.1 L455.5,597.1 L468.1,614.5 L481.4,631.3 M402.7,539.4 L412.7,556.9 L426.0,571.7 L441.2,584.8 L450.4,603.0 L463.3,618.1 M411.0,552.9 L419.1,566.6 L431.0,577.0 L440.7,589.5 L450.6,601.6 L461.5,612.9 M403.7,552.2 L417.1,569.1 L431.5,585.1 L444.8,602.1 L459.4,617.9 L474.0,633.8 M410.6,568.2 L423.8,580.8 L435.9,594.4 L447.3,608.5 L459.9,621.7 L469.0,637.9 M405.4,566.7 L416.0,578.5 L429.5,588.0 L439.0,600.8 L446.5,615.2 L458.5,626.0 M394.8,558.0 L404.8,571.1 L417.3,582.0 L428.5,593.9 L438.2,607.3 L446.3,621.8 M389.4,551.6 L402.0,566.2 L411.6,583.3 L426.4,596.1 L437.4,612.1 L450.3,626.5 M397.8,568.6 L409.3,578.2 L417.7,590.5 L428.1,601.2 L437.4,612.7 L444.2,626.3 M387.9,560.1 L401.8,578.0 L414.7,596.8 L430.1,613.5 L446.7,629.0 L457.9,649.2 M385.2,560.6 L399.6,577.4 L414.7,593.7 L428.9,610.6 L441.3,629.2 L456.9,645.0 M382.1,567.7 L396.3,580.9 L408.4,595.8 L419.6,611.5 L434.6,624.0 L447.1,638.6 M390.9,577.8 L398.6,591.1 L407.5,603.3 L420.1,612.5 L427.0,626.5 L437.0,637.8 M382.0,569.7 L389.1,585.3 L402.5,595.6 L411.3,609.7 L423.6,620.8 L432.1,635.3" stroke="#000" stroke-width="1" fill="none"/>
<path d="M396,556 L420,575 L446,592 L458,610 L466,634 M392,566 L404,590 L430,614 L455,632" stroke="#000" stroke-width="1" fill="none"/>
<text class="sl" x="477.5" y="613" font-size="14" textLength="47" lengthAdjust="spacingAndGlyphs">Muschi</text>

<!-- fat -->
<g>
<path d="M465,550 C465,544 466,538 469,533 C473,528 478,527 481,527 C484,524 488,523 491,524 C494,521 497,520 499,518 C502,517 505,519 506,524 C510,528 513,533 513,540 C514,546 513,551 511,556 L472,557 C467,556 465,553 465,550 Z" fill="#000" filter="url(#dYelF)"/>
<path d="M465,550 C465,544 466,538 469,533 C473,528 478,527 481,527 C484,524 488,523 491,524 C494,521 497,520 499,518 C502,517 505,519 506,524 C510,528 513,533 513,540 C514,546 513,551 511,556 L472,557 C467,556 465,553 465,550 Z" fill="#000" filter="url(#dOrg2)"/>
<path d="M467,547 C466,552 468,556 474,556.5 L511,556 M469,544 L478,546 L496,545 L510,546 M466,534 C470,528 477,527 481,531 C483,537 481,543 476,544 M481,531 C485,526 491,526 493,531 M493,531 C497,530 502,532 503,538 M478,546 C479,551 481,554 482,556 M490,545 C488,550 489,553 492,556 M503,537 L500,545 M498,518 L501,527 L497,531 M505,519 L508,526 L512,531 M486,537 L491,538 M505,546 C508,549 508,553 506,556" fill="none" stroke="#000" stroke-width="1.2"/>
</g>
<text class="sl" x="518" y="578.6" font-size="14" textLength="57.5" lengthAdjust="spacingAndGlyphs">Grasime</text>
</svg>
</body></html>
